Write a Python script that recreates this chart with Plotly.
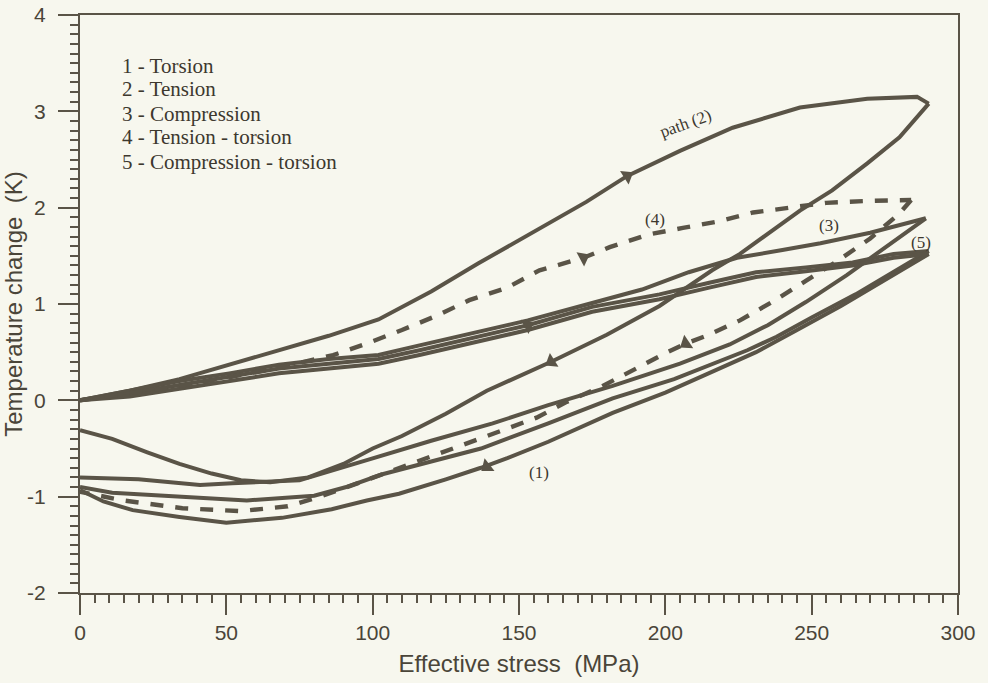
import plotly.graph_objects as go

# ---------------- data ----------------
# Tension (2)
t2_load_x = [0, 17, 34, 51, 68, 85, 102, 120, 136, 155, 173, 187, 205, 223, 246, 269, 286, 290]
t2_load_y = [0, 0.10, 0.22, 0.37, 0.53, 0.67, 0.84, 1.13, 1.42, 1.75, 2.06, 2.33, 2.59, 2.83, 3.04, 3.13, 3.15, 3.08]
t2_unl_x = [290, 280, 269, 257, 246, 235, 225.5, 216, 208, 198, 180, 161, 139, 125, 110, 100, 90, 78, 65, 55, 45, 34, 23, 11, 0]
t2_unl_y = [3.08, 2.73, 2.46, 2.18, 1.97, 1.73, 1.52, 1.35, 1.18, 0.98, 0.68, 0.40, 0.10, -0.14, -0.37, -0.50, -0.66, -0.80, -0.85, -0.83, -0.76, -0.66, -0.54, -0.40, -0.31]

# Tension - torsion (4), dashed
t4_load_x = [0, 17, 34, 51, 68, 86.5, 98, 110, 122, 133, 146, 157, 172, 181, 194, 206, 218.6, 230, 243.6, 255, 269, 284]
t4_load_y = [0, 0.07, 0.15, 0.24, 0.34, 0.47, 0.59, 0.73, 0.88, 1.04, 1.17, 1.35, 1.48, 1.59, 1.72, 1.79, 1.86, 1.95, 2.00, 2.05, 2.07, 2.08]
t4_unl_x = [284, 280, 270, 259, 248, 237, 225.5, 214, 207, 200, 190, 178, 166, 156, 140, 125, 110, 95, 82, 71, 55, 35, 15, 0]
t4_unl_y = [2.08, 1.94, 1.68, 1.45, 1.24, 1.03, 0.83, 0.67, 0.59, 0.49, 0.33, 0.14, -0.02, -0.18, -0.36, -0.53, -0.70, -0.86, -1.00, -1.10, -1.15, -1.12, -1.04, -0.95]

# Compression (3)
t3_load_x = [0, 17, 34, 51, 68, 85, 102, 116, 130, 153, 175, 192, 208, 224.5, 240, 253, 270, 289]
t3_load_y = [0, 0.10, 0.20, 0.28, 0.37, 0.43, 0.47, 0.57, 0.67, 0.83, 1.01, 1.15, 1.33, 1.48, 1.56, 1.63, 1.74, 1.89]
t3_unl_x = [289, 276, 262, 248, 235, 222, 205, 182, 160, 141, 120, 98, 75, 52, 41, 20, 0]
t3_unl_y = [1.89, 1.60, 1.30, 1.02, 0.78, 0.58, 0.38, 0.15, -0.05, -0.24, -0.42, -0.62, -0.83, -0.86, -0.88, -0.82, -0.80]

# Compression - torsion (5)
t5_load_x = [0, 17, 34, 51, 68, 85, 102, 116, 130, 153, 175, 198, 215, 231, 248, 264, 278, 290]
t5_load_y = [0, 0.07, 0.16, 0.24, 0.33, 0.38, 0.43, 0.52, 0.62, 0.78, 0.97, 1.10, 1.22, 1.33, 1.38, 1.43, 1.52, 1.55]
t5_unl_x = [290, 278, 265, 250, 238, 228, 215, 203, 182, 160, 137, 120, 103, 91, 80, 57, 34, 11, 0]
t5_unl_y = [1.55, 1.33, 1.10, 0.86, 0.66, 0.52, 0.36, 0.22, 0.02, -0.24, -0.50, -0.63, -0.77, -0.90, -0.99, -1.04, -1.00, -0.96, -0.90]

# Torsion (1)
t1_load_x = [0, 17, 34, 51, 68, 85, 102, 116, 130, 153, 175, 198, 215, 231, 248, 264, 278, 290]
t1_load_y = [0, 0.04, 0.12, 0.20, 0.28, 0.33, 0.38, 0.47, 0.57, 0.73, 0.92, 1.05, 1.17, 1.28, 1.34, 1.40, 1.48, 1.52]
t1_unl_x = [290, 275, 260, 245, 231, 214, 200, 182, 171, 160, 146, 137, 125, 109, 98, 86, 69, 50, 34, 18, 8, 0]
t1_unl_y = [1.52, 1.25, 0.98, 0.73, 0.50, 0.27, 0.08, -0.13, -0.28, -0.43, -0.60, -0.70, -0.82, -0.97, -1.04, -1.13, -1.22, -1.27, -1.21, -1.14, -1.05, -0.93]

# direction arrows (triangles) on the paths
arrow_x = [187, 161, 172, 207, 153, 139]
arrow_y = [2.33, 0.40, 1.48, 0.59, 0.78, -0.69]
arrow_angle = [58, 238, 62, 236, 62, 232]

legend_lines = ["1 - Torsion", "2 - Tension", "3 - Compression",
                "4 - Tension - torsion", "5 - Compression - torsion"]
legend_y = [3.47, 3.23, 2.97, 2.73, 2.47]

x_ticks = [0, 50, 100, 150, 200, 250, 300]
y_ticks = [-2, -1, 0, 1, 2, 3, 4]
y_tick_text = ["-2", "-1", "0", "1", "2", "3", "4"]

# ---------------- style ----------------
INK = "#5a5447"
TXT = "#4a4539"
LEG = "#3d382e"
BG = "#f7f7ee"
LW = 4.0

fig = go.Figure()

solid = [(t2_load_x, t2_load_y), (t2_unl_x, t2_unl_y),
         (t3_load_x, t3_load_y), (t3_unl_x, t3_unl_y),
         (t5_load_x, t5_load_y), (t5_unl_x, t5_unl_y),
         (t1_load_x, t1_load_y), (t1_unl_x, t1_unl_y)]
for xs, ys in solid:
    fig.add_trace(go.Scatter(x=xs, y=ys, mode="lines",
                             line=dict(color=INK, width=LW),
                             showlegend=False, hoverinfo="skip"))

for xs, ys in [(t4_load_x, t4_load_y), (t4_unl_x, t4_unl_y)]:
    fig.add_trace(go.Scatter(x=xs, y=ys, mode="lines",
                             line=dict(color=INK, width=LW + 0.4, dash="13px,12px"),
                             showlegend=False, hoverinfo="skip"))

fig.add_trace(go.Scatter(x=arrow_x, y=arrow_y, mode="markers",
                         marker=dict(symbol="triangle-up", size=14, color=INK,
                                     angle=arrow_angle, line=dict(width=0)),
                         showlegend=False, hoverinfo="skip"))

serif = "Liberation Serif, Times New Roman, serif"
for txt, yy in zip(legend_lines, legend_y):
    fig.add_annotation(x=13.5, y=yy, text=txt, showarrow=False, xanchor="left",
                       yanchor="middle", font=dict(family=serif, size=21, color=LEG))

curve_labels = [("path (2)", 207, 2.87, -20), ("(4)", 196.5, 1.88, 0),
                ("(3)", 256, 1.82, 0), ("(5)", 287.5, 1.64, 0), ("(1)", 157, -0.75, 0)]
for txt, xx, yy, ang in curve_labels:
    fig.add_annotation(x=xx, y=yy, text=txt, showarrow=False, textangle=ang,
                       font=dict(family=serif, size=17, color=LEG))

sans = "Liberation Sans, Arial, sans-serif"
axis_common = dict(showline=True, linecolor=INK, linewidth=2, mirror=True,
                   ticks="outside", ticklen=20, tickwidth=2, tickcolor=INK,
                   showgrid=False, zeroline=False,
                   tickfont=dict(family=sans, size=21, color=TXT))

fig.update_xaxes(range=[0, 300], tickvals=x_ticks,
                 minor=dict(dtick=5, ticks="outside", ticklen=8, tickwidth=1.6, tickcolor=INK),
                 title=dict(text="Effective stress\u00a0 (MPa)", standoff=12,
                            font=dict(family=sans, size=24, color=TXT)),
                 **axis_common)
fig.update_yaxes(range=[-2, 4], tickvals=y_ticks, ticktext=y_tick_text,
                 ticklabelstandoff=8,
                 minor=dict(dtick=0.1, ticks="outside", ticklen=8, tickwidth=1.6, tickcolor=INK),
                 title=dict(text="Temperature change\u00a0 (K)", standoff=4,
                            font=dict(family=sans, size=24, color=TXT)),
                 **axis_common)

fig.update_layout(width=988, height=683, autosize=False,
                  margin=dict(l=80, r=30, t=15, b=90, autoexpand=False),
                  paper_bgcolor=BG, plot_bgcolor=BG, showlegend=False)

fig.write_html("out.html")
